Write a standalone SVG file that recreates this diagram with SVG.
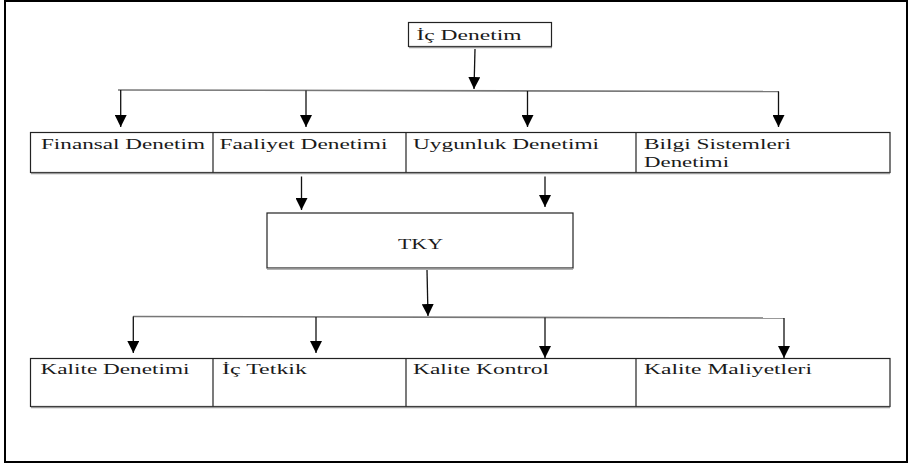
<svg xmlns="http://www.w3.org/2000/svg" width="909" height="466" viewBox="0 0 909 466">
<style>
.frame{fill:none;stroke:#000;stroke-width:2}
.box{fill:#fff;stroke:#222;stroke-width:1.2}
.shadow{stroke:#999;stroke-width:1.5}
.div{stroke:#222;stroke-width:1.2}
.t{font-family:"Liberation Serif","Times New Roman",serif;font-size:15.5px;fill:#1a1a1a}
.c{stroke:#111;stroke-width:1.3;fill:none}
.h{stroke:#777;stroke-width:1.6;fill:none}
</style>
<defs>
<marker id="ah" markerUnits="userSpaceOnUse" markerWidth="12" markerHeight="12" viewBox="0 0 11 11" refX="11" refY="5.5" orient="auto">
<path d="M0,0 L11,5.5 L0,11 z" fill="#000"/>
</marker>
</defs>
<rect class="frame" x="5" y="1" width="902" height="461"/>
<g id="connectors">
<line class="c" x1="475" y1="49" x2="474" y2="89" marker-end="url(#ah)"/>
<line class="h" x1="118" y1="90" x2="779" y2="91.5"/>
<line class="c" x1="120.7" y1="90" x2="120.7" y2="127" marker-end="url(#ah)"/>
<line class="c" x1="306" y1="90.5" x2="306" y2="127" marker-end="url(#ah)"/>
<line class="c" x1="527.5" y1="91" x2="527.5" y2="127" marker-end="url(#ah)"/>
<line class="c" x1="778.5" y1="91.5" x2="778.5" y2="127" marker-end="url(#ah)"/>
<line class="c" x1="301.5" y1="176.5" x2="301.5" y2="210" marker-end="url(#ah)"/>
<line class="c" x1="545" y1="176.5" x2="545" y2="207" marker-end="url(#ah)"/>
<line class="c" x1="427" y1="270" x2="428" y2="316" marker-end="url(#ah)"/>
<line class="h" x1="133" y1="316.5" x2="784" y2="318"/>
<line class="c" x1="133.3" y1="316.5" x2="133.3" y2="353" marker-end="url(#ah)"/>
<line class="c" x1="316" y1="317" x2="316" y2="353" marker-end="url(#ah)"/>
<line class="c" x1="545" y1="317.5" x2="545" y2="358" marker-end="url(#ah)"/>
<line class="c" x1="784" y1="318" x2="784" y2="358" marker-end="url(#ah)"/>
</g>
<g id="ic-denetim">
<rect class="box" x="408.5" y="22.5" width="143" height="24"/>
<line class="shadow" x1="409" y1="47.5" x2="552" y2="47.5"/>
<text class="t" transform="translate(416.5,40) scale(1.4,1)" textLength="75" lengthAdjust="spacingAndGlyphs">İç Denetim</text>
</g>
<g id="row1">
<rect class="box" x="30.5" y="132.5" width="859.5" height="40"/>
<line class="shadow" x1="31" y1="173.5" x2="890" y2="173.5"/>
<line class="div" x1="213" y1="132.5" x2="213" y2="172.5"/>
<line class="div" x1="406" y1="132.5" x2="406" y2="172.5"/>
<line class="div" x1="636" y1="132.5" x2="636" y2="172.5"/>
</g>
<g id="finansal-denetim">
<text class="t" transform="translate(41,149) scale(1.4,1)" textLength="117.1" lengthAdjust="spacingAndGlyphs">Finansal Denetim</text>
</g>
<g id="faaliyet-denetimi">
<text class="t" transform="translate(219.5,149) scale(1.4,1)" textLength="120" lengthAdjust="spacingAndGlyphs">Faaliyet Denetimi</text>
</g>
<g id="uygunluk-denetimi">
<text class="t" transform="translate(413,149) scale(1.4,1)" textLength="132.9" lengthAdjust="spacingAndGlyphs">Uygunluk Denetimi</text>
</g>
<g id="bilgi-sistemleri-denetimi">
<text class="t" transform="translate(644,149) scale(1.4,1)" textLength="105" lengthAdjust="spacingAndGlyphs">Bilgi Sistemleri</text>
<text class="t" transform="translate(644,167) scale(1.4,1)" textLength="60.7" lengthAdjust="spacingAndGlyphs">Denetimi</text>
</g>
<g id="tky">
<rect class="box" x="267" y="213" width="306" height="55"/>
<line class="shadow" x1="267" y1="269" x2="573" y2="269"/>
<text class="t" transform="translate(398,249) scale(1.4,1)" textLength="32.1" lengthAdjust="spacingAndGlyphs">TKY</text>
</g>
<g id="row2">
<rect class="box" x="30.5" y="358.5" width="859.5" height="48"/>
<line class="shadow" x1="31" y1="407.5" x2="890" y2="407.5"/>
<line class="div" x1="213" y1="358.5" x2="213" y2="406.5"/>
<line class="div" x1="406" y1="358.5" x2="406" y2="406.5"/>
<line class="div" x1="636" y1="358.5" x2="636" y2="406.5"/>
</g>
<g id="kalite-denetimi">
<text class="t" transform="translate(40.5,374) scale(1.4,1)" textLength="106.4" lengthAdjust="spacingAndGlyphs">Kalite Denetimi</text>
</g>
<g id="ic-tetkik">
<text class="t" transform="translate(222,374) scale(1.4,1)" textLength="60.7" lengthAdjust="spacingAndGlyphs">İç Tetkik</text>
</g>
<g id="kalite-kontrol">
<text class="t" transform="translate(413,374) scale(1.4,1)" textLength="97.1" lengthAdjust="spacingAndGlyphs">Kalite Kontrol</text>
</g>
<g id="kalite-maliyetleri">
<text class="t" transform="translate(644,374) scale(1.4,1)" textLength="120" lengthAdjust="spacingAndGlyphs">Kalite Maliyetleri</text>
</g>
</svg>
